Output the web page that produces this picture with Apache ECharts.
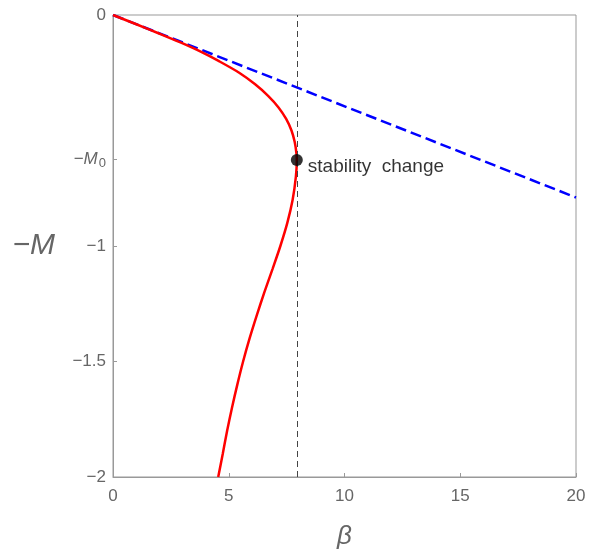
<!DOCTYPE html>
<html><head><meta charset="utf-8">
<script src="https://cdn.jsdelivr.net/npm/echarts@6/dist/echarts.min.js"></script>
<style>html,body{margin:0;padding:0;background:#fff}#c{width:603px;height:549px}</style>
</head><body><div id="c"></div>
<script>
// Data
var xTicks = [0, 5, 10, 15, 20];
var yTicks = [-2, -1.5, -1, -0.625, 0];
var M0 = -0.625;
var betaCritical = 7.95;
var stabilityPoint = [7.94, -0.628];
var blueLine = [[0, 0], [20, -0.79]];
var redY = [0, -0.04, -0.08, -0.12, -0.16, -0.2, -0.25, -0.3, -0.35, -0.4, -0.45, -0.5, -0.55, -0.6, -0.628,
  -0.7, -0.8, -0.9, -1.0, -1.1, -1.2, -1.3, -1.4, -1.5, -1.6, -1.7, -1.8, -1.9, -2.0];
var redX = [0, 1.006, 1.99, 2.94, 3.81, 4.58, 5.45, 6.14, 6.70, 7.15, 7.48, 7.71, 7.85, 7.925, 7.94,
  7.90, 7.76, 7.53, 7.23, 6.89, 6.54, 6.21, 5.90, 5.62, 5.37, 5.14, 4.93, 4.74, 4.545];

var redData = redX.map(function (x, i) { return [x, redY[i]]; });
var gray = '#666';
var chart = echarts.init(document.getElementById('c'));
chart.setOption({
  animation: false,
  grid: { left: 113, right: 27, top: 15, bottom: 72, show: true, borderColor: '#999', borderWidth: 1,
    containLabel: false, outerBoundsMode: 'none' },
  xAxis: {
    type: 'value', min: 0, max: 20, interval: 5,
    name: 'β', nameLocation: 'middle', nameGap: 47,
    nameTextStyle: { fontSize: 26, fontStyle: 'italic', color: gray, fontFamily: 'Liberation Sans' },
    axisLine: { show: true, onZero: false, lineStyle: { color: '#999' } },
    axisTick: { show: true, inside: true, length: 4, lineStyle: { color: '#999' } },
    axisLabel: { color: gray, fontSize: 17, margin: 11, fontFamily: 'Liberation Sans' },
    splitLine: { show: false }
  },
  yAxis: {
    type: 'value', min: -2, max: 0,
    name: '−M', nameLocation: 'middle', nameRotate: 0, nameGap: 58,
    nameTextStyle: { fontSize: 30, fontStyle: 'italic', color: gray, fontFamily: 'Liberation Sans' },
    axisLine: { show: true, onZero: false, lineStyle: { color: '#999' } },
    axisTick: { show: true, inside: true, length: 4, customValues: yTicks, lineStyle: { color: '#999' } },
    axisLabel: {
      color: gray, fontSize: 17, margin: 7, fontFamily: 'Liberation Sans',
      customValues: yTicks,
      formatter: function (v) {
        if (Math.abs(v - M0) < 1e-6) return '{m|−}{i|M}{s|0}';
        if (v === 0) return '0';
        return '−' + Math.abs(v);
      },
      rich: {
        m: { fontSize: 17, color: gray, fontFamily: 'Liberation Sans' },
        i: { fontSize: 17, fontStyle: 'italic', color: gray, fontFamily: 'Liberation Sans' },
        s: { fontSize: 13, color: gray, fontFamily: 'Liberation Sans', verticalAlign: 'bottom', padding: [9, 0, 0, 1] }
      }
    },
    splitLine: { show: false }
  },
  series: [
    {
      type: 'line', data: blueLine, symbol: 'none', z: 3,
      lineStyle: { color: '#0000ff', width: 2.5, type: [11, 5] }
    },
    {
      type: 'line', data: redData, symbol: 'none', smooth: 0.3, z: 4, clip: true,
      lineStyle: { color: '#ff0000', width: 2.5 },
      markLine: {
        symbol: 'none', silent: true, label: { show: false },
        lineStyle: { color: '#444', width: 1, type: [6, 4] },
        data: [{ xAxis: betaCritical }]
      }
    },
    {
      type: 'scatter', data: [stabilityPoint], symbolSize: 12, z: 5,
      itemStyle: { color: '#000' },
      label: { show: true, position: 'right', distance: 5, offset: [0, 7], formatter: 'stability  change',
        fontSize: 19, color: '#000', fontFamily: 'Liberation Sans' }
    }
  ]
});
</script></body></html>
